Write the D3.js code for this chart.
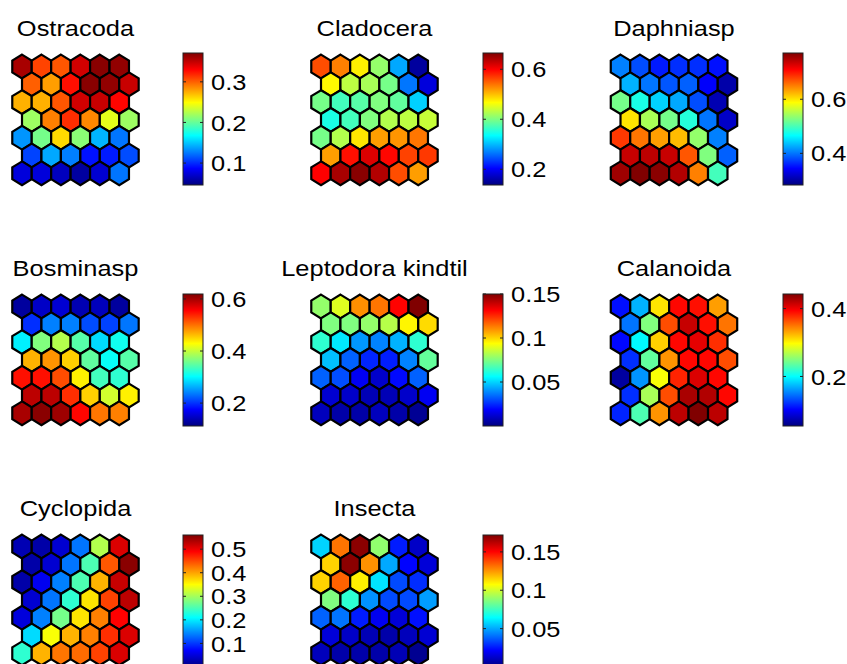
<!DOCTYPE html>
<html>
<head>
<meta charset="utf-8">
<script src="https://cdn.jsdelivr.net/npm/d3@7"></script>
<style>
  html, body { margin: 0; padding: 0; background: #fff; }
  svg { display: block; }
  text { font-family: "Liberation Sans", Arial, Helvetica, sans-serif; fill: #000; }
</style>
</head>
<body>
<svg id="chart" width="847" height="664"></svg>
<script>
// Component planes of a 7 x 6 hexagonal SOM (rows top to bottom, odd rows offset right)
const titles = ["Ostracoda", "Cladocera", "Daphniasp", "Bosminasp", "Leptodora kindtil", "Calanoida", "Cyclopida", "Insecta"];

const ostracoda = [
  [0.358, 0.309, 0.303, 0.345, 0.368, 0.365],
  [0.300, 0.280, 0.326, 0.368, 0.365, 0.348],
  [0.274, 0.274, 0.303, 0.345, 0.348, 0.329],
  [0.218, 0.290, 0.316, 0.287, 0.241, 0.218],
  [0.134, 0.205, 0.261, 0.212, 0.144, 0.124],
  [0.108, 0.140, 0.127, 0.092, 0.095, 0.111],
  [0.075, 0.075, 0.066, 0.056, 0.072, 0.124]
];
const cladocera = [
  [0.559, 0.533, 0.475, 0.412, 0.290, 0.153],
  [0.470, 0.433, 0.422, 0.396, 0.264, 0.185],
  [0.396, 0.369, 0.380, 0.401, 0.385, 0.311],
  [0.348, 0.369, 0.401, 0.427, 0.433, 0.438],
  [0.396, 0.427, 0.480, 0.517, 0.522, 0.538],
  [0.517, 0.591, 0.617, 0.596, 0.565, 0.570],
  [0.599, 0.644, 0.660, 0.639, 0.559, 0.517]
];
const daphniasp = [
  [0.405, 0.381, 0.356, 0.366, 0.366, 0.351],
  [0.429, 0.400, 0.385, 0.390, 0.342, 0.303],
  [0.522, 0.478, 0.444, 0.425, 0.381, 0.307],
  [0.600, 0.547, 0.522, 0.483, 0.400, 0.317],
  [0.683, 0.654, 0.634, 0.620, 0.537, 0.405],
  [0.737, 0.742, 0.737, 0.669, 0.527, 0.390],
  [0.756, 0.771, 0.766, 0.747, 0.649, 0.498]
];
const bosminasp = [
  [0.127, 0.147, 0.153, 0.137, 0.142, 0.127],
  [0.198, 0.239, 0.239, 0.213, 0.208, 0.234],
  [0.295, 0.366, 0.391, 0.345, 0.284, 0.310],
  [0.467, 0.482, 0.452, 0.350, 0.305, 0.345],
  [0.548, 0.548, 0.518, 0.436, 0.335, 0.325],
  [0.589, 0.589, 0.533, 0.452, 0.406, 0.436],
  [0.599, 0.614, 0.604, 0.553, 0.497, 0.492]
];
const leptodora = [
  [0.078, 0.089, 0.110, 0.114, 0.131, 0.150],
  [0.075, 0.075, 0.078, 0.083, 0.095, 0.099],
  [0.063, 0.053, 0.041, 0.038, 0.045, 0.063],
  [0.047, 0.033, 0.024, 0.023, 0.038, 0.071],
  [0.033, 0.030, 0.017, 0.011, 0.020, 0.033],
  [0.012, 0.011, 0.008, 0.008, 0.011, 0.017],
  [0.009, 0.006, 0.006, 0.009, 0.006, 0.003]
];
const calanoida = [
  [0.108, 0.171, 0.307, 0.392, 0.389, 0.334],
  [0.147, 0.249, 0.365, 0.416, 0.389, 0.350],
  [0.105, 0.198, 0.315, 0.392, 0.404, 0.377],
  [0.120, 0.237, 0.338, 0.392, 0.392, 0.365],
  [0.066, 0.159, 0.295, 0.381, 0.408, 0.392],
  [0.120, 0.264, 0.365, 0.427, 0.424, 0.392],
  [0.116, 0.229, 0.338, 0.420, 0.443, 0.420]
];
const cyclopida = [
  [0.028, 0.022, 0.045, 0.134, 0.308, 0.510],
  [0.022, 0.045, 0.134, 0.252, 0.442, 0.554],
  [0.022, 0.062, 0.140, 0.252, 0.392, 0.521],
  [0.045, 0.134, 0.235, 0.364, 0.454, 0.526],
  [0.050, 0.140, 0.274, 0.364, 0.420, 0.490],
  [0.190, 0.347, 0.392, 0.420, 0.465, 0.510],
  [0.235, 0.392, 0.426, 0.431, 0.454, 0.510]
];
const insecta = [
  [0.057, 0.131, 0.170, 0.089, 0.026, 0.012],
  [0.115, 0.170, 0.126, 0.050, 0.022, 0.015],
  [0.115, 0.134, 0.110, 0.060, 0.034, 0.029],
  [0.086, 0.072, 0.046, 0.034, 0.034, 0.048],
  [0.038, 0.041, 0.026, 0.019, 0.015, 0.024],
  [0.015, 0.012, 0.009, 0.007, 0.010, 0.014],
  [0.010, 0.007, 0.007, 0.007, 0.009, 0.003]
];

// Colour limits of each plane's colorbar
const limits = [
  [0.046, 0.371], [0.137, 0.665], [0.283, 0.771],
  [0.112, 0.619], [0.000, 0.150], [0.054, 0.443],
  [0.000, 0.560], [0.000, 0.172]
];
const colorbarTicks = [
  [0.1, 0.2, 0.3], [0.2, 0.4, 0.6], [0.4, 0.6],
  [0.2, 0.4, 0.6], [0.05, 0.1, 0.15], [0.2, 0.4],
  [0.1, 0.2, 0.3, 0.4, 0.5], [0.05, 0.1, 0.15]
];

const planes = [ostracoda, cladocera, daphniasp, bosminasp, leptodora, calanoida, cyclopida, insecta];

// MATLAB-style jet colormap
function jet(t) {
  t = Math.max(0, Math.min(1, t));
  const c = v => Math.round(255 * Math.max(0, Math.min(1, v)));
  return `rgb(${c(1.5 - Math.abs(4 * t - 3))},${c(1.5 - Math.abs(4 * t - 2))},${c(1.5 - Math.abs(4 * t - 1))})`;
}

const svg = d3.select("#chart");
const defs = svg.append("defs");

// Gradient shared by all colorbars (bottom = low, top = high)
const grad = defs.append("linearGradient")
  .attr("id", "jetGrad").attr("x1", 0).attr("y1", 1).attr("x2", 0).attr("y2", 0);
d3.range(0, 65).forEach(i => {
  grad.append("stop").attr("offset", i / 64).attr("stop-color", jet(i / 64));
});

// Layout
const colCenter0 = [22, 321, 620.5];     // x of first hex centre in each panel column
const rowCenter0 = [66.5, 306.5, 546.5]; // y of first hex row centre in each panel row
const hexW = 19.45, rowStep = 17.8;
const hexR = rowStep / 1.5;
const barX = [183, 483, 783], barTop = [53, 294, 535], barW = 20, barH = 132;
const fontSize = 22.5, textScale = 1.13;

const hexPoints = [
  [0, -hexR], [hexW / 2, -hexR / 2], [hexW / 2, hexR / 2],
  [0, hexR], [-hexW / 2, hexR / 2], [-hexW / 2, -hexR / 2]
];
const hexPath = "M" + hexPoints.map(p => p.join(",")).join("L") + "Z";

planes.forEach((plane, k) => {
  const pc = k % 3, pr = Math.floor(k / 3);
  const nRows = plane.length, nCols = plane[0].length;

  const x = d3.scaleLinear().domain([0, nCols - 1]).range([colCenter0[pc], colCenter0[pc] + (nCols - 1) * hexW]);
  const y = d3.scaleLinear().domain([0, nRows - 1]).range([rowCenter0[pr], rowCenter0[pr] + (nRows - 1) * rowStep]);
  const color = d3.scaleSequential(jet).domain(limits[k]);

  const g = svg.append("g");

  const cells = [];
  plane.forEach((row, r) => row.forEach((v, c) => cells.push({ r, c, v })));

  g.selectAll("path.hex").data(cells).join("path")
    .attr("class", "hex")
    .attr("d", hexPath)
    .attr("transform", d => `translate(${x(d.c + (d.r % 2 ? 0.5 : 0))},${y(d.r)})`)
    .attr("fill", d => color(d.v))
    .attr("stroke", "#000")
    .attr("stroke-width", 2.2)
    .attr("stroke-linejoin", "miter");

  // Title centred over the hex grid
  const cx = (x(0) - hexW / 2 + x(nCols - 1 + 0.5) + hexW / 2) / 2;
  svg.append("text")
    .attr("transform", `translate(${cx},${y(0) - hexR - 19}) scale(${textScale},1)`)
    .attr("text-anchor", "middle")
    .attr("font-size", fontSize)
    .text(titles[k]);

  // Colorbar
  const bx = barX[pc], by = barTop[pr];
  const s = d3.scaleLinear().domain(limits[k]).range([by + barH, by]);
  const cb = svg.append("g");
  cb.append("rect")
    .attr("x", bx).attr("y", by).attr("width", barW).attr("height", barH)
    .attr("fill", "url(#jetGrad)")
    .attr("stroke", "#222").attr("stroke-width", 1);

  const tk = cb.selectAll("g.tick").data(colorbarTicks[k]).join("g").attr("class", "tick");
  tk.append("line")
    .attr("x1", bx).attr("x2", bx + 3)
    .attr("y1", d => s(d)).attr("y2", d => s(d))
    .attr("stroke", "#222").attr("stroke-width", 1);
  tk.append("line")
    .attr("x1", bx + barW - 3).attr("x2", bx + barW)
    .attr("y1", d => s(d)).attr("y2", d => s(d))
    .attr("stroke", "#222").attr("stroke-width", 1);
  tk.append("text")
    .attr("transform", d => `translate(${bx + barW + 8},${s(d)}) scale(${textScale},1)`)
    .attr("dy", "0.36em")
    .attr("font-size", fontSize)
    .text(d => String(d));
});
</script>
</body>
</html>
